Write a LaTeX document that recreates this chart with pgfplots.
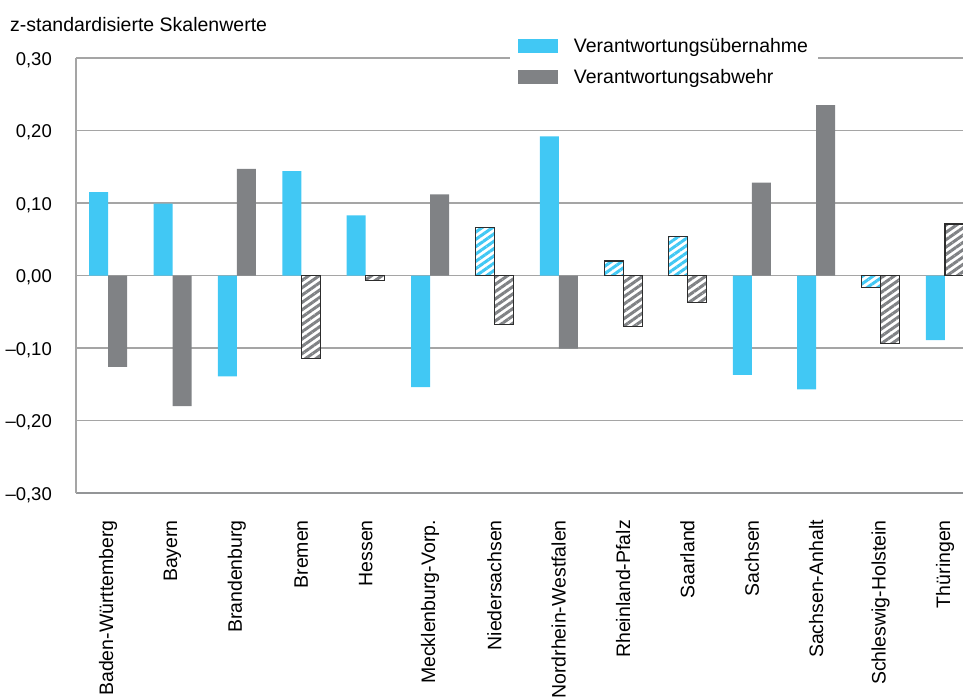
\documentclass[border=0pt]{standalone}
\usepackage{fontspec}
\setmainfont{Liberation Sans}
\usepackage{pgfplots}
\pgfplotsset{compat=1.18}
\usetikzlibrary{patterns.meta}
\definecolor{cblue}{RGB}{65,200,244}
\definecolor{cgray}{RGB}{128,130,133}
\definecolor{cgrid}{RGB}{165,165,165}
\definecolor{cedge}{RGB}{45,45,45}
\begin{document}
\begin{tikzpicture}
\begin{axis}[
  scale only axis, width=887pt, height=435pt,
  xmin=-0.5, xmax=13.28, ymin=-0.3, ymax=0.3,
  axis lines*=left,
  axis line style={draw=cgrid, line width=1.5pt},
  x axis line style={draw=cgray!85, line width=2pt},
  ymajorgrids, grid style={draw=cgrid, line width=1.3pt},
  major tick length=0pt,
  /pgf/number format/assume math mode=true,
  ytick={-0.3,-0.2,-0.1,0,0.1,0.2,0.3},
  yticklabels={{–0,30},{–0,20},{–0,10},{0,00},{0,10},{0,20},{0,30}},
  yticklabel style={font=\fontsize{18.5}{20}\selectfont, inner sep=0pt, anchor=east, yshift=-2pt},
  yticklabel shift=24pt,
  xtick={0,...,13},
  xticklabels={Baden-Württemberg,Bayern,Brandenburg,Bremen,Hessen,Mecklenburg-Vorp.,Niedersachsen,Nordrhein-Westfalen,Rheinland-Pfalz,Saarland,Sachsen,Sachsen-Anhalt,Schleswig-Holstein,Thüringen},
  xticklabel style={font=\fontsize{19.5}{22}\selectfont, rotate=90, anchor=east, inner sep=0pt},
  xticklabel shift=27pt,
  title={z-standardisierte Skalenwerte},
  title style={at={(0,1)}, anchor=base west, xshift=-66pt, yshift=21pt, inner sep=0pt, font=\fontsize{19.5}{22}\selectfont},
  legend style={at={(0.489,1.058)}, anchor=north west, draw=none, fill=white,
    inner xsep=8pt, inner ysep=3pt, font=\fontsize{19.5}{22}\selectfont,
    row sep=12pt, cells={anchor=west},
    /tikz/every odd column/.append style={column sep=14pt}},
  legend cell align=left,
]
\coordinate (ll) at (rel axis cs:0,0);
% solid bars
\addplot[ybar, bar width=19pt, bar shift=-9.5pt, fill=cblue, draw=none,
  legend image code/.code={\fill[cblue] (0pt,-7pt) rectangle (40pt,7pt);}]
  coordinates {(0,0.115) (1,0.099) (2,-0.139) (3,0.144) (4,0.083) (5,-0.154) (7,0.192) (10,-0.137) (11,-0.157) (13,-0.089)};
\addlegendentry{Verantwortungsübernahme}
\addplot[ybar, bar width=19pt, bar shift=9.5pt, fill=cgray, draw=none,
  legend image code/.code={\fill[cgray] (0pt,-7pt) rectangle (40pt,7pt);}]
  coordinates {(0,-0.126) (1,-0.180) (2,0.147) (5,0.112) (7,-0.101) (10,0.128) (11,0.235)};
\addlegendentry{Verantwortungsabwehr}
% hatched bars
\addplot[ybar, bar width=19pt, bar shift=-9.5pt, forget plot,
  preaction={fill=white}, pattern={Lines[angle=35,distance=6pt,line width=3pt]}, pattern color=cblue,
  draw=cedge, line width=1.2pt]
  coordinates {(6,0.066) (8,0.020) (9,0.054) (12,-0.016)};
\addplot[ybar, bar width=19pt, bar shift=9.5pt, forget plot,
  preaction={fill=white}, pattern={Lines[angle=35,distance=6pt,line width=3pt]}, pattern color=cgray,
  draw=cedge, line width=1.2pt]
  coordinates {(3,-0.114) (4,-0.007) (6,-0.068) (8,-0.070) (9,-0.037) (12,-0.094) (13,0.071)};
\end{axis}
\pgfresetboundingbox
\path[use as bounding box] ([shift={(-76pt,-204pt)}]ll) rectangle ++(963pt,697pt);
\end{tikzpicture}
\end{document}
